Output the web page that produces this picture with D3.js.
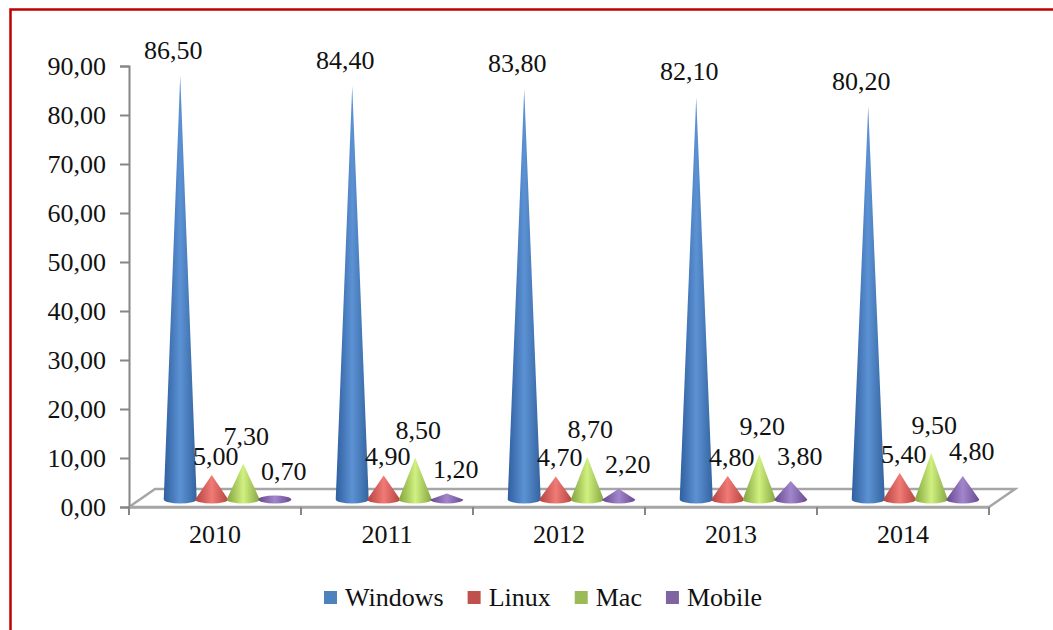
<!DOCTYPE html>
<html>
<head>
<meta charset="utf-8">
<script src="https://cdn.jsdelivr.net/npm/d3@7"></script>
<style>
  html, body { margin: 0; background: #fff; }
  svg { display: block; }
  text { font-family: "Liberation Serif", serif; font-size: 26px; fill: #111; }
</style>
</head>
<body>
<svg id="chart" width="1053" height="630"></svg>
<script>
// Desktop operating system share by year, in percent
const years = ["2010", "2011", "2012", "2013", "2014"];
const seriesNames = ["Windows", "Linux", "Mac", "Mobile"];
const windows = [86.5, 84.4, 83.8, 82.1, 80.2];
const linux = [5.0, 4.9, 4.7, 4.8, 5.4];
const mac = [7.3, 8.5, 8.7, 9.2, 9.5];
const mobile = [0.7, 1.2, 2.2, 3.8, 4.8];
const yTicks = [0, 10, 20, 30, 40, 50, 60, 70, 80, 90];

const seriesValues = [windows, linux, mac, mobile];
const swatchColors = ["#4f81bd", "#c0504d", "#9bbb59", "#8064a2"];
// Cone shading stops: edge, highlight, edge
const coneShades = [
  ["#2f5f9f", "#5c92d4", "#34649f"],
  ["#b5423f", "#ef7a76", "#b8443f"],
  ["#82a23e", "#d0f080", "#86a742"],
  ["#67478e", "#a286cc", "#6a4a92"]
];
// Label anchor relative to each cone tip, per series
const labelShift = [[-7, -17], [4, -10], [3, -19], [9, -16]];

const comma = d3.format(".2f");
const fmt = v => comma(v).replace(".", ",");

const svg = d3.select("#chart");
const axisColor = "#868686";
const floorColor = "#a6a6a6";

const margin = { left: 129, right: 989, top: 66, bottom: 507 };
const depth = { x: 26, y: 18 };

const x = d3.scaleBand().domain(years).range([margin.left, margin.right]);
const y = d3.scaleLinear().domain([0, 90]).range([margin.bottom, margin.top]);
const inner = d3.scaleBand().domain(seriesNames).range([0, x.bandwidth() * 0.733]);
const groupInset = (x.bandwidth() - inner.range()[1]) / 2 + depth.x / 2 - 0.5;

const rx = 16.5, ry = 4;
const baseY = y(0) - 7.5;
const unit = y(0) - y(1);

// Frame around the figure: top and left rules only
svg.append("path")
  .attr("d", "M10.5,630V9.5H1053")
  .attr("fill", "none")
  .attr("stroke", "#c00000")
  .attr("stroke-width", 2.5);

// Horizontal gradients that give the cones their round look
const defs = svg.append("defs");
coneShades.forEach((stops, i) => {
  const g = defs.append("linearGradient").attr("id", "cone" + i)
    .attr("x1", 0).attr("x2", 1).attr("y1", 0).attr("y2", 0);
  [0, 0.5, 1].forEach((o, k) => {
    g.append("stop").attr("offset", o).attr("stop-color", stops[k]);
  });
});

// Perspective floor
svg.append("path")
  .attr("d", `M${margin.left},${margin.bottom}L${margin.left + depth.x},${margin.bottom - depth.y}` +
             `H${margin.right + depth.x}L${margin.right},${margin.bottom}Z`)
  .attr("fill", "none")
  .attr("stroke", floorColor)
  .attr("stroke-width", 2.5);

// Axes
const yAxis = d3.axisLeft(y).tickValues(yTicks).tickFormat(fmt).tickSize(9).tickPadding(14);
const gy = svg.append("g").attr("transform", `translate(${margin.left},0)`).call(yAxis);
gy.selectAll("path, line").attr("stroke", axisColor).attr("stroke-width", 2);
gy.selectAll("text").style("font-size", "26px").style("font-family", '"Liberation Serif", serif')
  .attr("fill", "#111").attr("dy", "0.34em");

const xAxis = d3.axisBottom(x).tickSize(0).tickPadding(18);
const gx = svg.append("g").attr("transform", `translate(0,${margin.bottom})`).call(xAxis);
gx.select("path").attr("stroke", floorColor).attr("stroke-width", 2.5);
gx.selectAll("line").remove();
gx.selectAll("text").style("font-size", "26px").style("font-family", '"Liberation Serif", serif')
  .attr("fill", "#111").attr("dy", "0.71em");

// Category separators hanging under the floor edge
const separators = years.map(d => x(d)).concat([x(years[years.length - 1]) + x.bandwidth()]);
svg.append("g").selectAll("line").data(separators).join("line")
  .attr("x1", d => d).attr("x2", d => d)
  .attr("y1", margin.bottom).attr("y2", margin.bottom + 8)
  .attr("stroke", axisColor).attr("stroke-width", 2);

// Cones, one group per year
const cones = [];
years.forEach((yr, yi) => {
  seriesNames.forEach((name, si) => {
    cones.push({
      yr, name, si,
      value: seriesValues[si][yi],
      cx: x(yr) + groupInset + inner(name) + inner.bandwidth() / 2
    });
  });
});

const coneG = svg.append("g").selectAll("g").data(cones).join("g");
coneG.append("path")
  .attr("fill", d => `url(#cone${d.si})`)
  .attr("d", d => {
    const tip = baseY - d.value * unit;
    return `M${d.cx - rx},${baseY}` +
           `A${rx},${ry} 0 0 0 ${d.cx + rx},${baseY}` +
           (tip < baseY - ry
             ? `L${d.cx},${tip}Z`
             : `A${rx},${ry} 0 0 0 ${d.cx - rx},${baseY}Z`);
  });

// Value labels
svg.append("g").selectAll("text").data(cones).join("text")
  .attr("text-anchor", "middle")
  .attr("x", d => d.cx + labelShift[d.si][0])
  .attr("y", d => baseY - d.value * unit + labelShift[d.si][1])
  .text(d => fmt(d.value));

// Legend laid out left to right from measured text widths
const legend = svg.append("g");
let cursor = 324;
seriesNames.forEach((name, i) => {
  legend.append("rect")
    .attr("x", cursor).attr("y", 591).attr("width", 13).attr("height", 13)
    .attr("fill", swatchColors[i]);
  const t = legend.append("text").attr("x", cursor + 21).attr("y", 606).text(name);
  cursor += 21 + t.node().getComputedTextLength() + 24;
});
</script>
</body>
</html>
